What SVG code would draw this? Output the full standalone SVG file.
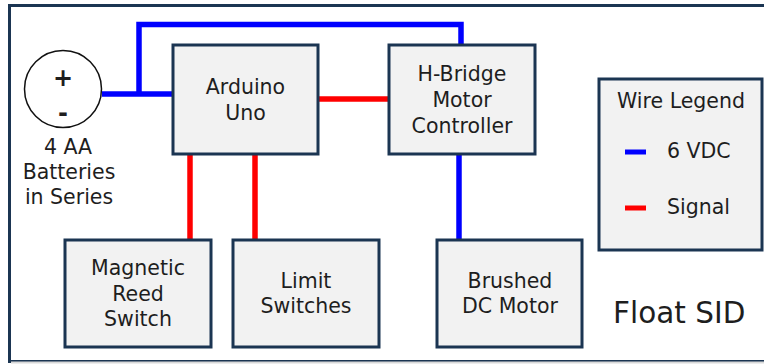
<svg xmlns="http://www.w3.org/2000/svg" width="764" height="364" viewBox="0 0 764 364">
<style>
.box{fill:#f2f2f2;stroke:#1b3552;stroke-width:3}
.t{font-family:"DejaVu Sans","Liberation Sans",sans-serif;font-size:20.5px;fill:#1e1e1e;text-anchor:middle}
.pw{stroke:#0000ff;stroke-width:5.5;fill:none}
.sg{stroke:#ff0000;stroke-width:5.5;fill:none}
</style>
<rect x="0" y="0" width="764" height="364" fill="#ffffff"/>
<rect x="9.5" y="5.5" width="760" height="356" fill="#ffffff" stroke="#1b3552" stroke-width="3"/>
<line x1="11" y1="362.5" x2="764" y2="362.5" stroke="#d9d9d9" stroke-width="2"/>
<g id="connectors">
<path class="pw" d="M102 94 H173"/>
<path class="pw" d="M139 94 V24.5 H461 V45"/>
<path class="pw" d="M459 154 V240"/>
<path class="sg" d="M318 99 H389"/>
<path class="sg" d="M190 154 V240"/>
<path class="sg" d="M255 154 V240"/>
</g>
<g id="battery">
<circle cx="63" cy="89" r="38.5" fill="#ffffff" stroke="#111" stroke-width="1.5"/>
<text class="t" x="63" y="86" style="font-size:24px;font-weight:bold">+</text>
<text class="t" x="63" y="121" style="font-size:24px;font-weight:bold">-</text>
<text class="t" x="68" y="154">4 AA</text>
<text class="t" x="69" y="179">Batteries</text>
<text class="t" x="69" y="204">in Series</text>
</g>
<g id="arduino">
<rect class="box" x="173" y="45" width="145" height="109"/>
<text class="t" x="245.5" y="94">Arduino</text>
<text class="t" x="245.5" y="120">Uno</text>
</g>
<g id="hbridge">
<rect class="box" x="389" y="45" width="146" height="109"/>
<text class="t" x="462" y="81">H-Bridge</text>
<text class="t" x="462" y="107">Motor</text>
<text class="t" x="462" y="133">Controller</text>
</g>
<g id="reed">
<rect class="box" x="65" y="240" width="146" height="107"/>
<text class="t" x="138" y="275">Magnetic</text>
<text class="t" x="138" y="301">Reed</text>
<text class="t" x="138" y="326">Switch</text>
</g>
<g id="limit">
<rect class="box" x="233" y="240" width="146" height="107"/>
<text class="t" x="306" y="288">Limit</text>
<text class="t" x="306" y="313">Switches</text>
</g>
<g id="motor">
<rect class="box" x="437" y="240" width="145" height="107"/>
<text class="t" x="510" y="288">Brushed</text>
<text class="t" x="510" y="313">DC Motor</text>
</g>
<g id="legend">
<rect class="box" x="599" y="79" width="163" height="171"/>
<text class="t" x="681" y="108">Wire Legend</text>
<line x1="625" y1="152" x2="646" y2="152" stroke="#0000ff" stroke-width="5"/>
<text class="t" x="667" y="158" style="text-anchor:start">6 VDC</text>
<line x1="625" y1="208" x2="646" y2="208" stroke="#ff0000" stroke-width="5"/>
<text class="t" x="667" y="214" style="text-anchor:start">Signal</text>
</g>
<g id="title">
<text class="t" x="613" y="323" style="text-anchor:start;font-size:29.5px">Float SID</text>
</g>
</svg>
